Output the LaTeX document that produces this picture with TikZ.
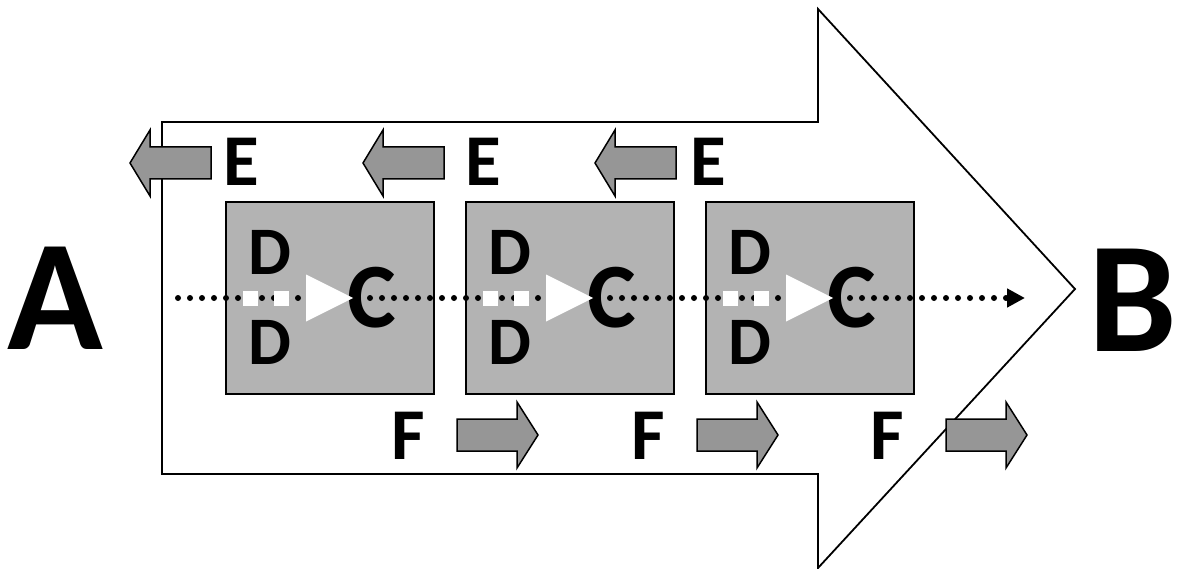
\documentclass[tikz,border=0pt]{standalone}
\usepackage{fontspec}
\setmainfont{Carlito}
\usetikzlibrary{arrows.meta}

\definecolor{boxGray}{RGB}{179,179,179}
\definecolor{arrowGray}{RGB}{150,150,150}

\tikzset{
	pics/leftArrow/.style = {code = {
		\draw[line width=1.5pt, fill=arrowGray] (0,0) -- (20,-33) -- (20,-16) -- (81,-16) -- (81,16) -- (20,16) -- (20,33) -- cycle;
	}},
	pics/rightArrow/.style = {code = {
		\draw[line width=1.5pt, fill=arrowGray] (0,-16) -- (60,-16) -- (60,-33) -- (81,0) -- (60,33) -- (60,16) -- (0,16) -- cycle;
	}}
}

\begin{document}
\begin{tikzpicture}[x = 1pt, y = -1pt]
	\tikzstyle{outlineStyle} = [draw, line width = 1.8pt]
	\tikzstyle{stageStyle} = [shape = rectangle, draw, line width = 1.8pt, fill = boxGray, minimum width = 208pt, minimum height = 192pt, inner sep = 0pt]
	\tikzstyle{endStyle} = [inner sep = 0pt, font = \fontsize{158pt}{158pt}\selectfont\bfseries]
	\tikzstyle{bigCStyle} = [inner sep = 0pt, font = \fontsize{92pt}{92pt}\selectfont\bfseries]
	\tikzstyle{dStyle} = [inner sep = 0pt, font = \fontsize{68pt}{68pt}\selectfont\bfseries]
	\tikzstyle{sideStyle} = [inner sep = 0pt, font = \fontsize{73pt}{73pt}\selectfont\bfseries]
	\tikzstyle{dotLineStyle} = [line width = 6pt, line cap = round, dash pattern = on 0pt off 12pt, -{Triangle[length = 18pt, width = 18pt]}]
	\tikzstyle{squareStyle} = [shape = rectangle, fill = white, minimum size = 15pt, inner sep = 0pt]
	\useasboundingbox (0,0) rectangle (1177,569);
	% big outline arrow
	\draw[outlineStyle] (162,122) -- (818,122) -- (818,9) -- (1075,289) -- (818,568) -- (818,474) -- (162,474) -- cycle;
	% stages
	\node[stageStyle] (s1) at (330,298) {};
	\node[stageStyle] (s2) at (570,298) {};
	\node[stageStyle] (s3) at (810,298) {};
	% dotted flow
	\coordinate (flowStart) at (178,298);
	\coordinate (flowEnd) at (1025,298);
	\draw[dotLineStyle] (flowStart) -- (flowEnd);
	% letters inside stages
	\node[dStyle] (d1a) at (270,252) {D};
	\node[dStyle] (d1b) at (270,342) {D};
	\node[bigCStyle] (c1) at (372,298) {C};
	\node[dStyle] (d2a) at (510,252) {D};
	\node[dStyle] (d2b) at (510,342) {D};
	\node[bigCStyle] (c2) at (612,298) {C};
	\node[dStyle] (d3a) at (750,252) {D};
	\node[dStyle] (d3b) at (750,342) {D};
	\node[bigCStyle] (c3) at (852,298) {C};
	% white marks
	\node[squareStyle] (q1a) at (250,298) {};
	\node[squareStyle] (q1b) at (281,298) {};
	\fill[white] (306,274.5) -- (353,298) -- (306,321.5) -- cycle;
	\node[squareStyle] (q2a) at (490,298) {};
	\node[squareStyle] (q2b) at (521,298) {};
	\fill[white] (546,274.5) -- (593,298) -- (546,321.5) -- cycle;
	\node[squareStyle] (q3a) at (730,298) {};
	\node[squareStyle] (q3b) at (761,298) {};
	\fill[white] (786,274.5) -- (833,298) -- (786,321.5) -- cycle;
	% E side arrows
	\pic at (130,163) {leftArrow};
	\pic at (363,163) {leftArrow};
	\pic at (595,163) {leftArrow};
	\node[sideStyle] (e1) at (241,162) {E};
	\node[sideStyle] (e2) at (483,162) {E};
	\node[sideStyle] (e3) at (708,162) {E};
	% F side arrows
	\pic at (457,435) {rightArrow};
	\pic at (697,435) {rightArrow};
	\pic at (946,435) {rightArrow};
	\node[sideStyle] (f1) at (408,436) {F};
	\node[sideStyle] (f2) at (648,436) {F};
	\node[sideStyle] (f3) at (887,436) {F};
	% ends
	\node[endStyle] (a) at (55,298) {A};
	\node[endStyle] (b) at (1133,300) {B};
\end{tikzpicture}
\end{document}
